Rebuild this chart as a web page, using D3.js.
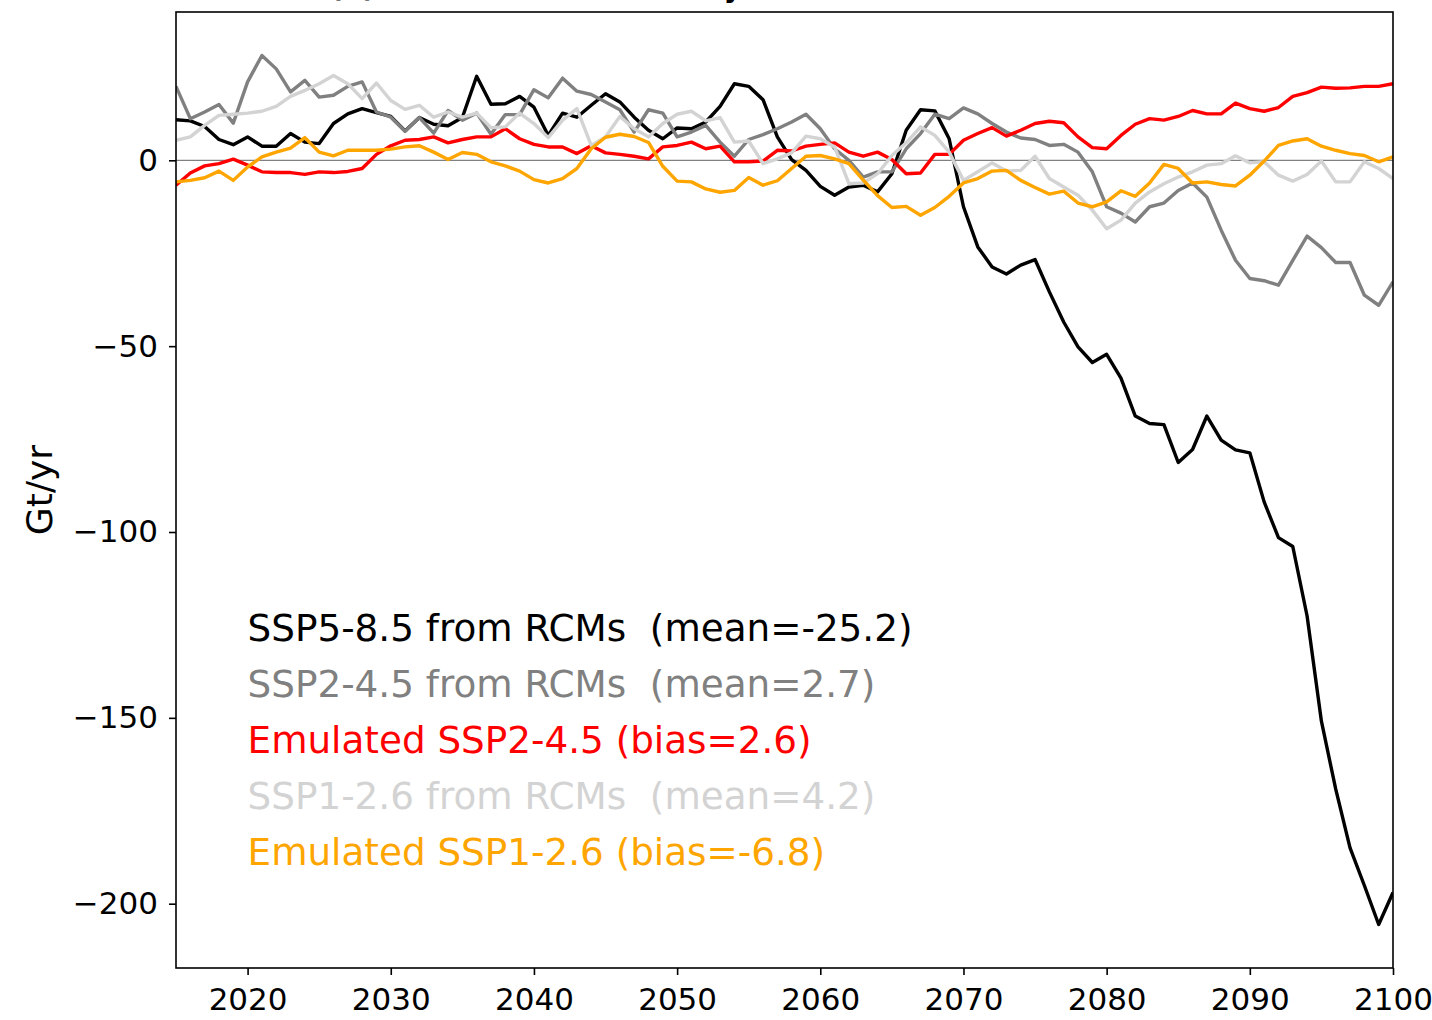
<!DOCTYPE html>
<html>
<head>
<meta charset="utf-8">
<script src="https://cdnjs.cloudflare.com/ajax/libs/d3/7.8.5/d3.min.js"></script>
<style>
    body { margin: 0; background: #fff; }
    text { font-family: "DejaVu Sans", sans-serif; }
    .line { fill: none; stroke-width: 3.4px; stroke-linejoin: round; }
</style>
</head>
<body>
<div id="chart"></div>
<script>
// Years on the x axis
const years = d3.range(2015, 2101);

// Series values (Gt/yr), one per year 2015..2100
const ssp585Rcm = [
    10.9, 10.6, 9.1, 5.6, 4.2, 6.3, 3.8, 3.8, 7.2, 4.9,
    4.5, 9.9, 12.5, 13.9, 12.8, 11.8, 7.9, 11.5, 9.7, 9.3,
    11.5, 22.6, 15.1, 15.2, 17.2, 14.3, 6.7, 12.7, 11.6, 14.8,
    17.9, 15.7, 11.6, 8.1, 5.8, 8.7, 8.5, 10.3, 14.5, 20.6,
    19.9, 16.3, 6.3, 0.2, -2.7, -7.0, -9.4, -7.2, -6.7, -8.5,
    -3.6, 8.1, 13.6, 13.3, 5.8, -12.5, -23.3, -28.7, -30.6, -28.2,
    -26.7, -35.4, -43.5, -50.2, -54.4, -52.2, -58.6, -68.8, -70.8, -71.1,
    -81.3, -77.8, -68.8, -75.3, -77.9, -78.7, -91.9, -101.5, -103.9, -122.6,
    -150.9, -169.2, -185.0, -195.1, -205.6, -197.0
];
const ssp245Rcm = [
    19.9, 11.2, 13.0, 15.0, 10.0, 21.1, 28.2, 24.6, 18.4, 21.5,
    17.0, 17.5, 19.9, 21.1, 13.0, 11.6, 7.8, 11.5, 7.3, 13.4,
    10.8, 12.7, 7.0, 12.3, 12.3, 19.0, 16.8, 22.1, 18.6, 17.7,
    15.7, 13.6, 7.6, 13.6, 12.7, 6.3, 7.6, 9.4, 4.9, 1.1,
    5.6, 6.9, 8.5, 10.3, 12.4, 8.5, 3.1, 0.0, -4.5, -3.1,
    -3.1, 3.1, 7.2, 12.4, 11.2, 14.1, 12.5, 9.9, 7.6, 6.0,
    5.6, 4.0, 4.3, 2.2, -3.1, -12.5, -14.2, -16.6, -12.5, -11.5,
    -8.1, -6.1, -9.9, -18.8, -26.9, -31.8, -32.4, -33.6, -26.9, -20.4,
    -23.5, -27.5, -27.5, -36.3, -39.0, -32.7
];
const ssp245Emu = [
    -6.7, -3.4, -1.5, -0.9, 0.3, -1.3, -3.1, -3.3, -3.3, -3.8,
    -3.1, -3.3, -3.0, -2.2, 1.6, 3.9, 5.4, 5.6, 6.3, 4.7,
    5.6, 6.3, 6.3, 8.5, 5.8, 4.3, 3.6, 3.6, 1.8, 3.9,
    2.0, 1.6, 1.1, 0.4, 3.6, 4.0, 4.9, 3.1, 3.8, -0.4,
    -0.4, -0.2, 2.7, 2.5, 3.8, 4.3, 4.7, 2.2, 1.1, 2.2,
    0.2, -3.6, -3.4, 1.6, 1.6, 5.4, 7.2, 8.8, 6.5, 8.1,
    9.9, 10.5, 10.1, 6.3, 3.4, 3.1, 6.7, 9.7, 11.2, 10.8,
    11.8, 13.4, 12.5, 12.5, 15.4, 13.9, 13.2, 14.2, 17.2, 18.2,
    19.7, 19.4, 19.5, 19.9, 19.9, 20.6
];
const ssp126Rcm = [
    5.4, 6.3, 9.4, 12.1, 12.4, 12.7, 13.2, 14.5, 17.2, 18.8,
    20.6, 22.8, 20.6, 16.6, 20.8, 16.1, 13.7, 14.8, 11.6, 13.0,
    11.6, 12.7, 8.8, 9.0, 12.7, 9.9, 6.1, 10.8, 13.9, 4.0,
    6.3, 11.8, 8.5, 6.3, 9.9, 12.4, 13.2, 10.6, 11.5, 4.9,
    5.2, -0.9, 0.4, 2.0, 6.5, 5.8, 3.6, -6.3, -6.1, -3.6,
    1.3, 4.7, 9.0, 6.7, 2.2, -5.4, -3.1, -0.7, -2.9, -2.7,
    1.1, -4.9, -7.2, -9.4, -13.4, -18.4, -16.1, -11.5, -8.5, -6.3,
    -4.5, -3.1, -1.3, -0.9, 1.2, -0.7, -0.4, -4.0, -5.6, -3.8,
    -0.2, -5.8, -5.8, -0.4, -2.2, -4.9
];
const ssp126Emu = [
    -5.8, -5.4, -4.7, -2.9, -5.4, -1.8, 0.9, 2.2, 3.3, 6.1,
    2.2, 1.2, 2.7, 2.7, 2.7, 3.0, 3.6, 3.9, 2.2, 0.2,
    2.1, 1.6, -0.4, -1.5, -2.9, -5.2, -6.1, -4.9, -2.2, 3.1,
    6.2, 7.0, 6.4, 4.8, -1.6, -5.6, -5.8, -7.7, -8.6, -8.1,
    -4.6, -6.7, -5.5, -2.2, 1.1, 1.3, 0.4, -0.9, -5.3, -9.5,
    -12.7, -12.4, -14.8, -12.7, -9.7, -6.1, -4.9, -2.9, -2.7, -5.4,
    -7.3, -9.1, -8.3, -11.5, -12.5, -11.2, -8.2, -9.7, -6.1, -1.1,
    -2.2, -6.1, -5.8, -6.5, -6.9, -4.0, -0.2, 4.0, 5.2, 5.8,
    3.8, 2.7, 1.8, 1.3, -0.4, 0.9
];

// Legend texts and colours, in plotting order
const seriesLabels = [
    'SSP5-8.5 from RCMs  (mean=-25.2)',
    'SSP2-4.5 from RCMs  (mean=2.7)',
    'Emulated SSP2-4.5 (bias=2.6)',
    'SSP1-2.6 from RCMs  (mean=4.2)',
    'Emulated SSP1-2.6 (bias=-6.8)'
];
const seriesColors = ['#000000', '#808080', '#ff0000', '#d3d3d3', '#ffa500'];
const seriesValues = [ssp585Rcm, ssp245Rcm, ssp245Emu, ssp126Rcm, ssp126Emu];

// Tick labels
const xTicks = [2020, 2030, 2040, 2050, 2060, 2070, 2080, 2090, 2100];
const yTicks = [0, -50, -100, -150, -200];

// Margins
let margin = {top: 12, right: 39, bottom: 52, left: 176},
    width = 1432 - margin.left - margin.right,
    height = 1020 - margin.top - margin.bottom;

const svg = d3.select('#chart')
    .append('svg')
    .attr('width', 1432)
    .attr('height', 1020);

// Title, sits above the page edge (only the descenders show, as in the figure)
svg.append('text')
    .attr('x', 330)
    .attr('y', -3)
    .style('font-size', '28px')
    .style('font-weight', 'bold')
    .text('(b) Mass balance anomaly');

const g = svg.append('g')
    .attr('transform', 'translate(' + margin.left + ',' + margin.top + ')');

// SCALES
let xScale = d3.scaleLinear()
    .domain([2015, 2100])
    .range([0, width]);

let yScale = d3.scaleLinear()
    .domain([-217.3, 39.9])
    .range([height, 0]);

// clip lines to the axes box
g.append('clipPath').attr('id', 'clip')
    .append('rect').attr('width', width).attr('height', height);

// zero line
g.append('line')
    .attr('x1', 0).attr('x2', width)
    .attr('y1', yScale(0)).attr('y2', yScale(0))
    .style('stroke', '#808080')
    .style('stroke-width', 1.2);

// LINES
let line = d3.line()
    .x(function(d, i) { return xScale(years[i]); })
    .y(function(d) { return yScale(d); });

const lines = g.append('g').attr('clip-path', 'url(#clip)');
seriesValues.forEach(function(vals, i) {
    lines.append('path')
        .datum(vals)
        .attr('class', 'line')
        .style('stroke', seriesColors[i])
        .attr('d', line);
});

// AXES
let xAxis = d3.axisBottom(xScale)
    .tickValues(xTicks)
    .tickFormat(d3.format('d'))
    .tickSize(7)
    .tickPadding(13);

let yAxis = d3.axisLeft(yScale)
    .tickValues(yTicks)
    .tickFormat(function(d) { return d < 0 ? '\u2212' + Math.abs(d) : d; })
    .tickSize(7)
    .tickPadding(11);

const gX = g.append('g')
    .attr('transform', 'translate(0,' + height + ')')
    .call(xAxis);

const gY = g.append('g')
    .call(yAxis);

[gX, gY].forEach(function(ax) {
    ax.select('.domain').remove();
    ax.selectAll('line').style('stroke', '#000').style('stroke-width', 1.6);
    ax.selectAll('text')
        .style('font-family', '"DejaVu Sans", sans-serif')
        .style('font-size', '31px')
        .attr('fill', '#000');
});
gX.selectAll('text').attr('dy', '0.71em');

// frame
g.append('rect')
    .attr('width', width)
    .attr('height', height)
    .style('fill', 'none')
    .style('stroke', '#000')
    .style('stroke-width', 1.6);

// y label
svg.append('text')
    .attr('transform', 'translate(52,' + (margin.top + height / 2) + ') rotate(-90)')
    .attr('text-anchor', 'middle')
    .style('font-size', '36px')
    .text('Gt/yr');

// legend as coloured text
const legend = g.append('g');
seriesLabels.forEach(function(lbl, i) {
    legend.append('text')
        .attr('x', xScale(2020))
        .attr('y', 629 + i * 56)
        .style('font-size', '37.3px')
        .attr('fill', seriesColors[i])
        .attr('xml:space', 'preserve')
        .style('white-space', 'pre')
        .text(lbl);
});
</script>
</body>
</html>
